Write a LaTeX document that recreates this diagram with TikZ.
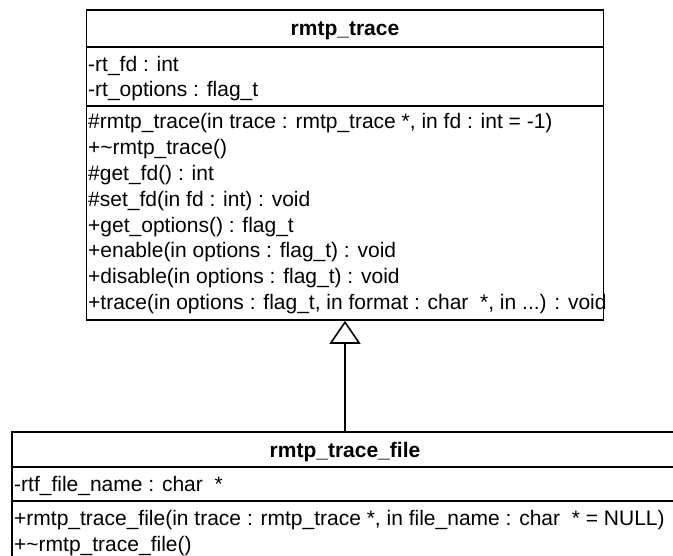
\documentclass[tikz,border=0pt]{standalone}
\usepackage{fontspec}
\setmainfont{Liberation Sans}
\usetikzlibrary{arrows.meta}
\begin{document}
\begin{tikzpicture}[x=1pt,y=-1pt,
  umlbox/.style={draw, line width=1.6pt, rectangle, inner sep=0pt},
  divider/.style={line width=1.6pt},
  member/.style={anchor=base west, inner sep=0pt, font=\fontsize{21}{25}\selectfont},
  classname/.style={anchor=base, inner sep=0pt, font=\fontsize{21}{25}\selectfont\bfseries},
  generalization/.style={line width=1.6pt,
    -{Triangle[open, length=23pt, width=31pt, line width=1.6pt]}}]
\useasboundingbox (0,0) rectangle (673,556);

% base class rmtp_trace
\node[umlbox, minimum width=517pt, minimum height=310pt] (base) at (345,165) {};
\draw[divider] ([yshift=-38pt]base.north west) -- ([yshift=-38pt]base.north east);
\draw[divider] ([yshift=-97pt]base.north west) -- ([yshift=-97pt]base.north east);
\node[classname] (baseName) at (345,36) {rmtp\_trace};
\node[member] (a1) at (88,72) {-rt\_fd : int};
\node[member] (a2) at (88,97) {-rt\_options : flag\_t};
\node[member] (m1) at (88,128.5) {\#rmtp\_trace(in trace : rmtp\_trace *, in fd : int = -1)};
\node[member] (m2) at (88,154.4) {+\textasciitilde rmtp\_trace()};
\node[member] (m3) at (88,180.3) {\#get\_fd() : int};
\node[member] (m4) at (88,206.2) {\#set\_fd(in fd : int) : void};
\node[member] (m5) at (88,232.1) {+get\_options() : flag\_t};
\node[member] (m6) at (88,258) {+enable(in options : flag\_t) : void};
\node[member] (m7) at (88,283.9) {+disable(in options : flag\_t) : void};
\node[member] (m8) at (88,309.8) {+trace(in options : flag\_t, in format : char\ \ *, in ...) : void};

% derived class rmtp_trace_file
\node[umlbox, minimum width=666pt, minimum height=136pt] (derived) at (345,500) {};
\draw[divider] ([yshift=-36pt]derived.north west) -- ([yshift=-36pt]derived.north east);
\draw[divider] ([yshift=-70pt]derived.north west) -- ([yshift=-70pt]derived.north east);
\node[classname] (derivedName) at (345,457) {rmtp\_trace\_file};
\node[member] (b1) at (14,492) {-rtf\_file\_name : char\ \ *};
\node[member] (n1) at (14,525) {+rmtp\_trace\_file(in trace : rmtp\_trace *, in file\_name : char\ \ * = NULL)};
\node[member] (n2) at (14,551) {+\textasciitilde rmtp\_trace\_file()};

% inheritance
\draw[generalization] (derived.north) -- (base.south);
\end{tikzpicture}
\end{document}
